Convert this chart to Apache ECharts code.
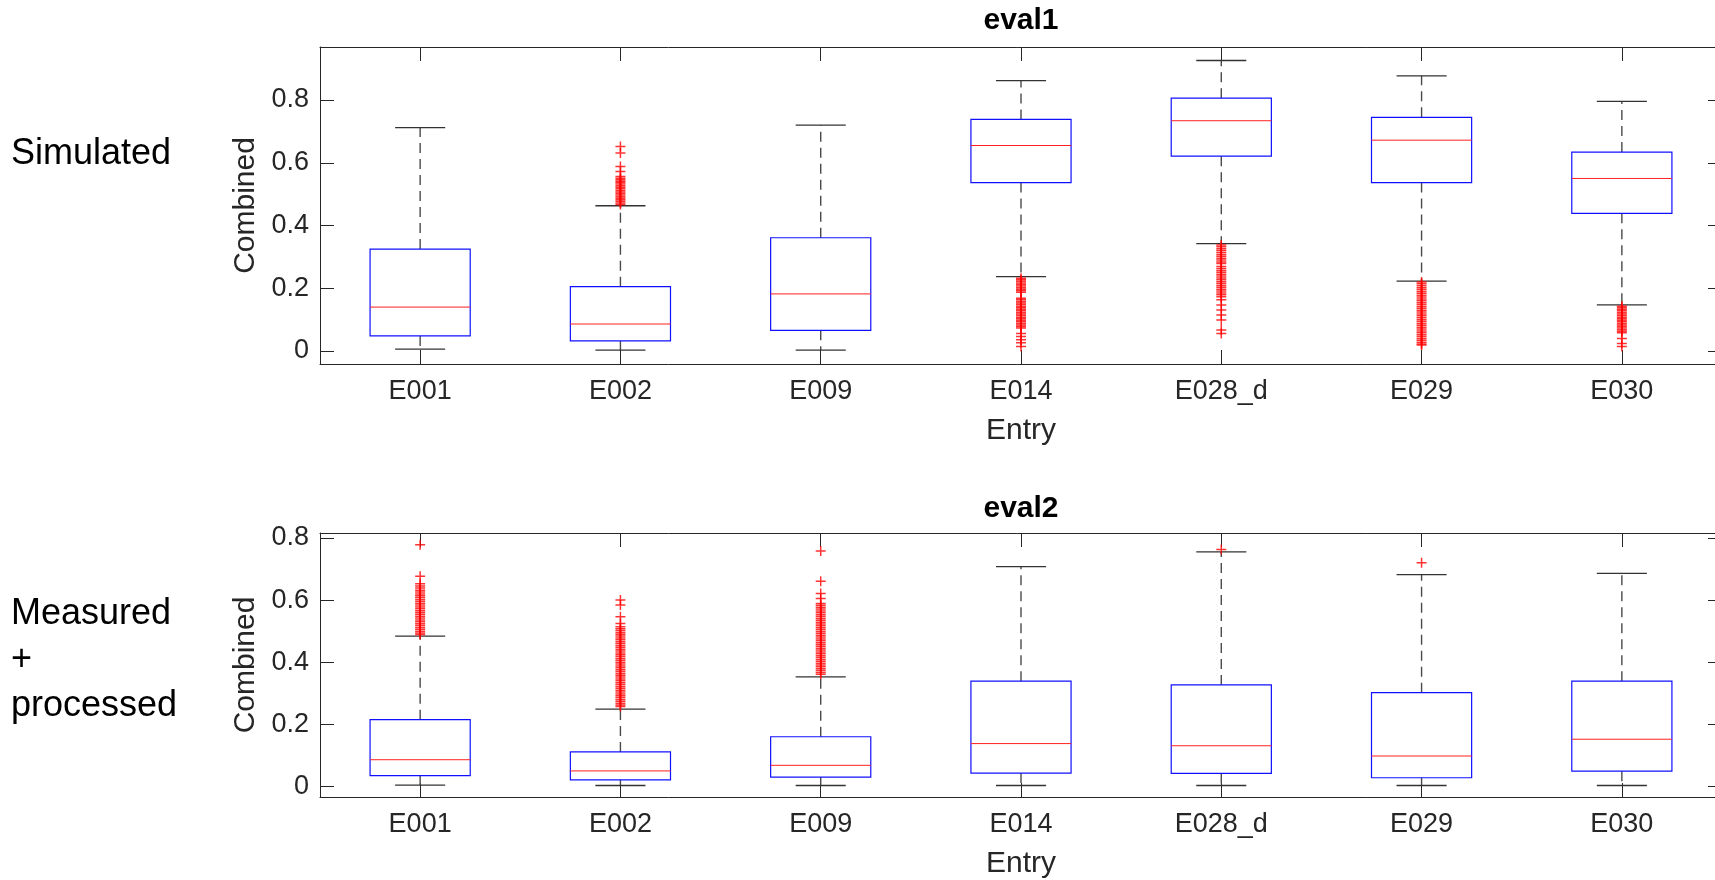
<!DOCTYPE html>
<html lang="en">

<head>
    <meta charset="UTF-8">
    <title>eval1 / eval2 boxplot</title>
    <style>
        html, body { margin: 0; padding: 0; background: #fff; overflow: hidden; }
    </style>
</head>

<body>

    <div id="main" style="width: 1715px; height: 880px;"></div>

    <script src="https://cdn.jsdelivr.net/npm/echarts@6/dist/echarts.min.js"></script>
    <script>
        const entries = ['E001', 'E002', 'E009', 'E014', 'E028_d', 'E029', 'E030']

        // box stats per entry: [lower whisker, q1, median, q3, upper whisker]
        const eval1Boxes = [
            [0.006, 0.048, 0.140, 0.325, 0.712],
            [0.003, 0.032, 0.086, 0.205, 0.463],
            [0.003, 0.066, 0.182, 0.361, 0.720],
            [0.237, 0.537, 0.655, 0.738, 0.862],
            [0.342, 0.621, 0.734, 0.806, 0.926],
            [0.223, 0.537, 0.672, 0.745, 0.877],
            [0.147, 0.439, 0.550, 0.634, 0.796]
        ]
        const eval2Boxes = [
            [0.004, 0.035, 0.086, 0.215, 0.484],
            [0.003, 0.021, 0.050, 0.111, 0.249],
            [0.003, 0.030, 0.068, 0.160, 0.353],
            [0.003, 0.043, 0.138, 0.339, 0.708],
            [0.003, 0.042, 0.131, 0.327, 0.755],
            [0.003, 0.028, 0.098, 0.302, 0.682],
            [0.003, 0.049, 0.152, 0.339, 0.686]
        ]

        // outliers ('+' marks), one list per entry
        const eval1Outliers = [
            [],
            [0.652, 0.631, 0.588, 0.572, 0.556, 0.551, 0.546, 0.541, 0.537, 0.532, 0.527, 0.522, 0.517,
                0.512, 0.507, 0.502, 0.497, 0.492, 0.487, 0.482, 0.477, 0.472, 0.467],
            [],
            [0.232, 0.227, 0.222, 0.217, 0.212, 0.207, 0.202, 0.197, 0.192, 0.187, 0.168, 0.163, 0.158,
                0.153, 0.148, 0.143, 0.138, 0.133, 0.128, 0.123, 0.118, 0.113, 0.108, 0.103, 0.098,
                0.093, 0.088, 0.083, 0.078, 0.073, 0.056, 0.046, 0.036, 0.026, 0.014],
            [0.338, 0.332, 0.326, 0.320, 0.314, 0.308, 0.302, 0.296, 0.290, 0.284, 0.279, 0.269, 0.263,
                0.257, 0.251, 0.245, 0.239, 0.233, 0.227, 0.221, 0.215, 0.209, 0.203, 0.197, 0.191,
                0.185, 0.179, 0.173, 0.163, 0.147, 0.131, 0.115, 0.099, 0.067, 0.056],
            [0.220, 0.214, 0.208, 0.202, 0.196, 0.190, 0.184, 0.178, 0.172, 0.166, 0.160, 0.154, 0.148,
                0.142, 0.136, 0.130, 0.124, 0.118, 0.112, 0.106, 0.100, 0.094, 0.088, 0.082, 0.076,
                0.070, 0.064, 0.058, 0.052, 0.046, 0.040, 0.034, 0.028, 0.022, 0.019],
            [0.143, 0.138, 0.133, 0.128, 0.123, 0.118, 0.113, 0.108, 0.103, 0.098, 0.093, 0.088, 0.083,
                0.078, 0.073, 0.068, 0.063, 0.058, 0.040, 0.024, 0.014]
        ]
        const eval2Outliers = [
            [0.778, 0.677, 0.653, 0.645, 0.639, 0.632, 0.626, 0.620, 0.614, 0.608, 0.602, 0.596, 0.590,
                0.584, 0.578, 0.572, 0.566, 0.560, 0.554, 0.548, 0.542, 0.536, 0.530, 0.524, 0.518,
                0.512, 0.506, 0.500, 0.494, 0.489],
            [0.600, 0.584, 0.546, 0.525, 0.514, 0.508, 0.502, 0.496, 0.490, 0.484, 0.478, 0.472, 0.466,
                0.460, 0.454, 0.448, 0.442, 0.436, 0.430, 0.424, 0.418, 0.412, 0.406, 0.400, 0.394,
                0.388, 0.382, 0.376, 0.370, 0.364, 0.358, 0.352, 0.346, 0.340, 0.334, 0.328, 0.322,
                0.316, 0.310, 0.304, 0.298, 0.292, 0.286, 0.280, 0.274, 0.268, 0.262, 0.257],
            [0.758, 0.661, 0.621, 0.605, 0.589, 0.583, 0.577, 0.571, 0.565, 0.559, 0.553, 0.547, 0.541,
                0.535, 0.529, 0.523, 0.517, 0.511, 0.505, 0.499, 0.493, 0.487, 0.481, 0.475, 0.469,
                0.463, 0.457, 0.451, 0.445, 0.439, 0.433, 0.427, 0.421, 0.415, 0.409, 0.403, 0.397,
                0.391, 0.385, 0.379, 0.373, 0.367, 0.361],
            [],
            [0.763],
            [0.720],
            []
        ]

        const font = 'Liberation Sans'
        const axisColor = '#262626'

        function boxData(boxes) {
            return boxes.map((b, i) => [i].concat(b))
        }

        function outlierData(list) {
            let out = []
            for (let i = 0; i < list.length; i++) {
                for (let j = 0; j < list[i].length; j++) {
                    out.push([i, list[i][j]])
                }
            }
            return out
        }

        // only label the 0.2 steps (min / max of the axis are not round)
        function tickLabel(v) {
            if (Math.abs(v * 5 - Math.round(v * 5)) > 1e-6) return ''
            return String(+v.toFixed(1))
        }

        function renderBox(params, api) {
            const idx = api.value(0)
            const low = api.coord([idx, api.value(1)])
            const q1 = api.coord([idx, api.value(2)])
            const med = api.coord([idx, api.value(3)])
            const q3 = api.coord([idx, api.value(4)])
            const high = api.coord([idx, api.value(5)])
            const band = api.size([1, 0])[0]
            const x = low[0]
            const bw = band * 0.25
            const cw = band * 0.125
            const whisker = { stroke: '#4a4a4a', lineWidth: 1.4, lineDash: [10, 6] }
            const cap = { stroke: '#333', lineWidth: 1.3 }
            return {
                type: 'group',
                children: [
                    { type: 'line', shape: { x1: x, y1: q3[1], x2: x, y2: high[1] }, style: whisker },
                    { type: 'line', shape: { x1: x, y1: q1[1], x2: x, y2: low[1] }, style: whisker },
                    { type: 'line', shape: { x1: x - cw, y1: high[1], x2: x + cw, y2: high[1] }, style: cap },
                    { type: 'line', shape: { x1: x - cw, y1: low[1], x2: x + cw, y2: low[1] }, style: cap },
                    {
                        type: 'rect',
                        shape: { x: x - bw, y: q3[1], width: 2 * bw, height: q1[1] - q3[1] },
                        style: { fill: 'none', stroke: '#1010ff', lineWidth: 1.2 }
                    },
                    { type: 'line', shape: { x1: x - bw, y1: med[1], x2: x + bw, y2: med[1] }, style: { stroke: '#ff2020', lineWidth: 1 } }
                ]
            }
        }

        function xAxes(gridIndex) {
            const common = {
                type: 'category',
                data: entries,
                gridIndex: gridIndex,
                axisLine: { show: true, onZero: false, lineStyle: { color: axisColor, width: 1 } },
                axisTick: { show: true, inside: true, alignWithLabel: true, length: 14, lineStyle: { color: axisColor } },
                splitLine: { show: false }
            }
            return [
                Object.assign({}, common, {
                    position: 'bottom',
                    name: 'Entry',
                    nameLocation: 'middle',
                    nameGap: 52,
                    nameTextStyle: { fontSize: 30, fontFamily: font, color: axisColor },
                    axisLabel: { fontSize: 27, fontFamily: font, color: axisColor, margin: 14 }
                }),
                Object.assign({}, common, { position: 'top', axisLabel: { show: false } })
            ]
        }

        function yAxes(gridIndex, min, max) {
            const common = {
                type: 'value',
                gridIndex: gridIndex,
                min: min,
                max: max,
                splitNumber: 5,
                axisLine: { show: true, onZero: false, lineStyle: { color: axisColor, width: 1 } },
                axisTick: { show: true, inside: true, length: 14, lineStyle: { color: axisColor } },
                splitLine: { show: false }
            }
            return [
                Object.assign({}, common, {
                    position: 'left',
                    name: 'Combined',
                    nameLocation: 'middle',
                    nameGap: 55,
                    nameTextStyle: { fontSize: 30, fontFamily: font, color: axisColor },
                    axisLabel: { fontSize: 27, fontFamily: font, color: axisColor, margin: 11, formatter: tickLabel }
                }),
                Object.assign({}, common, { position: 'right', axisLabel: { show: false } })
            ]
        }

        const plusSymbol = 'path://M5,0L5,10M0,5L10,5'

        const myChart = echarts.init(document.getElementById('main'))

        const option = {
            animation: false,
            backgroundColor: '#fff',
            title: [{
                text: 'eval1',
                left: 1021,
                top: 6,
                textAlign: 'center',
                padding: 0,
                textStyle: { fontSize: 30, fontWeight: 'bold', fontFamily: font, color: '#000' }
            }, {
                text: 'eval2',
                left: 1021,
                top: 494,
                textAlign: 'center',
                padding: 0,
                textStyle: { fontSize: 30, fontWeight: 'bold', fontFamily: font, color: '#000' }
            }, {
                text: 'Simulated',
                left: 11,
                top: 136,
                padding: 0,
                textStyle: { fontSize: 36, fontWeight: 'normal', fontFamily: font, color: '#000', lineHeight: 36 }
            }, {
                text: 'Measured\n+\nprocessed',
                left: 11,
                top: 591,
                padding: 0,
                textStyle: { fontSize: 36, fontWeight: 'normal', fontFamily: font, color: '#000', lineHeight: 46 }
            }],
            grid: [
                { left: 320, top: 47, width: 1402, height: 317, outerBoundsMode: 'none' },
                { left: 320, top: 533, width: 1402, height: 264, outerBoundsMode: 'none' }
            ],
            xAxis: xAxes(0).concat(xAxes(1)),
            yAxis: yAxes(0, -0.0414, 0.969).concat(yAxes(1, -0.034, 0.816)),
            series: [{
                type: 'custom',
                name: 'eval1',
                xAxisIndex: 0,
                yAxisIndex: 0,
                renderItem: renderBox,
                encode: { x: 0, y: [1, 2, 3, 4, 5] },
                data: boxData(eval1Boxes),
                silent: true
            }, {
                type: 'scatter',
                xAxisIndex: 0,
                yAxisIndex: 0,
                symbol: plusSymbol,
                symbolSize: 10,
                itemStyle: { color: 'none', borderColor: '#ff0000', borderWidth: 1.5 },
                data: outlierData(eval1Outliers),
                silent: true
            }, {
                type: 'custom',
                name: 'eval2',
                xAxisIndex: 2,
                yAxisIndex: 2,
                renderItem: renderBox,
                encode: { x: 0, y: [1, 2, 3, 4, 5] },
                data: boxData(eval2Boxes),
                silent: true
            }, {
                type: 'scatter',
                xAxisIndex: 2,
                yAxisIndex: 2,
                symbol: plusSymbol,
                symbolSize: 10,
                itemStyle: { color: 'none', borderColor: '#ff0000', borderWidth: 1.5 },
                data: outlierData(eval2Outliers),
                silent: true
            }]
        }

        myChart.setOption(option)
    </script>
</body>

</html>
